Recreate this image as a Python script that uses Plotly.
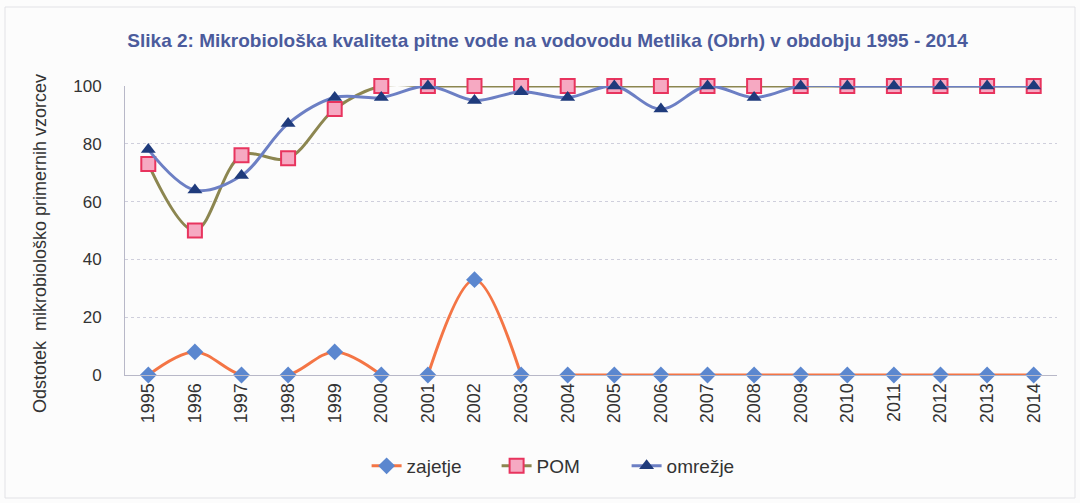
import plotly.graph_objects as go

years = [str(y) for y in range(1995, 2015)]
zajetje = [0, 8, 0, 0, 8, 0, 0, 33, 0, 0, 0, 0, 0, 0, 0, 0, 0, 0, 0, 0]
zajetje_breaks = [6, 9]  # line is broken before these indices
pom = [73, 50, 76, 75, 92, 100, 100, 100, 100, 100, 100, 100, 100, 100, 100, 100, 100, 100, 100, 100]
omrezje = [78, 64, 69, 87, 96, 96, 100, 95, 98, 96, 100, 92, 100, 96, 100, 100, 100, 100, 100, 100]
y_ticks = [0, 20, 40, 60, 80, 100]

FONT = "Liberation Sans, Arial, sans-serif"

# build zajetje with gaps
zx, zy = [], []
for i, (x, v) in enumerate(zip(years, zajetje)):
    if i in zajetje_breaks:
        zx.append(x)
        zy.append(None)
    zx.append(x)
    zy.append(v)

fig = go.Figure()
fig.add_trace(go.Scatter(
    x=zx, y=zy, name="zajetje", mode="lines+markers",
    line=dict(color="#f47545", width=3, shape="spline", smoothing=1),
    marker=dict(symbol="diamond", size=13, color="#5b87cf"),
    connectgaps=False, cliponaxis=False))
fig.add_trace(go.Scatter(
    x=years, y=pom, name="POM", mode="lines+markers",
    line=dict(color="#8c8650", width=3, shape="spline", smoothing=1),
    marker=dict(symbol="square", size=14, color="#f6a9c2",
                line=dict(color="#e8345e", width=2)),
    cliponaxis=False))
fig.add_trace(go.Scatter(
    x=years, y=omrezje, name="omrežje", mode="lines+markers",
    line=dict(color="#6c7fc4", width=3, shape="spline", smoothing=1),
    marker=dict(symbol="triangle-up", size=13, color="#1f3b7c"),
    cliponaxis=False))

fig.update_layout(
    width=1080, height=503,
    margin=dict(l=125, r=23, t=86, b=128),
    paper_bgcolor="#fcfcfc", plot_bgcolor="#fcfcfc",
    font=dict(family=FONT, color="#333333"),
    title=dict(
        text="<b>Slika 2: Mikrobiološka kvaliteta pitne vode na vodovodu Metlika (Obrh) v obdobju 1995 - 2014</b>",
        x=0.507, xanchor="center", xref="container",
        y=1 - 40 / 503, yanchor="middle", yref="container",
        font=dict(size=19, color="#4b5b9c", family=FONT)),
    xaxis=dict(
        type="category", range=[-0.5, 19.5],
        tickangle=-90, tickfont=dict(size=18, color="#333333"),
        showgrid=False, showline=True, linecolor="#b8b8c8", linewidth=1,
        ticks="", zeroline=False),
    yaxis=dict(
        range=[0, 100], tickvals=y_ticks,
        tickfont=dict(size=17, color="#333333"),
        showgrid=True, gridcolor="#cfcfdc", griddash="dot", gridwidth=1,
        showline=True, linecolor="#b8b8c8", linewidth=1,
        zeroline=False, ticks="", ticklabelstandoff=19),
    legend=dict(
        orientation="h", x=0.52, xanchor="center", xref="container",
        y=1 - 466 / 503, yanchor="middle", yref="container",
        font=dict(size=19, color="#333333"), bgcolor="rgba(0,0,0,0)",
        traceorder="normal", entrywidth=85),
    showlegend=True,
)

fig.add_annotation(
    text="Odstotek  mikrobiološko primernih vzorcev",
    xref="paper", yref="paper", x=(40 - 125) / 932, y=(375 - 244) / 289,
    xanchor="center", yanchor="middle", textangle=-90, showarrow=False,
    font=dict(size=18, color="#333333", family=FONT))

fig.add_shape(type="rect", xref="paper", yref="paper",
              x0=-120 / 932, x1=1 + 18 / 932, y0=-123 / 289, y1=1 + 79 / 289,
              line=dict(color="#e2e2e6", width=1), fillcolor="rgba(0,0,0,0)", layer="below")

fig.write_html("out.html", config={"displayModeBar": False},
               post_script="document.body.style.margin='0';")
